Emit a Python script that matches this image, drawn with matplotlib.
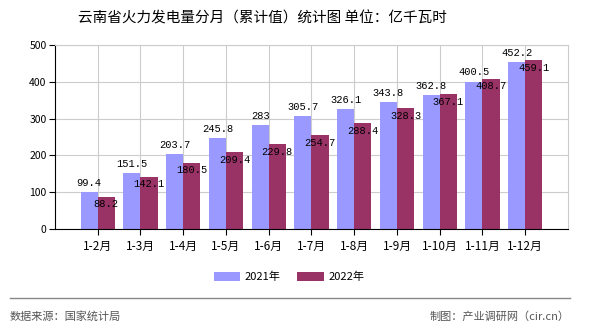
import matplotlib.pyplot as plt
import numpy as np
from matplotlib.lines import Line2D

plt.rcParams['font.family'] = ['Noto Sans CJK SC', 'DejaVu Sans']

months = ["1-2月", "1-3月", "1-4月", "1-5月", "1-6月", "1-7月",
          "1-8月", "1-9月", "1-10月", "1-11月", "1-12月"]
y2021 = [99.4, 151.5, 203.7, 245.8, 283, 305.7, 326.1, 343.8, 362.8, 400.5, 452.2]
y2022 = [88.2, 142.1, 180.5, 209.4, 229.8, 254.7, 288.4, 328.3, 367.1, 408.7, 459.1]
yticks = [0, 100, 200, 300, 400, 500]

c21 = "#9999ff"
c22 = "#993366"

fig = plt.figure(figsize=(5.9, 3.3), dpi=100)
ax = fig.add_axes([0.0932, 0.306, 0.8695, 0.558])

x = np.arange(len(months))
w = 0.4
b1 = ax.bar(x - w / 2, y2021, w, color=c21, label="2021年", zorder=2)
b2 = ax.bar(x + w / 2, y2022, w, color=c22, label="2022年", zorder=2)

# value labels: 2021 above the bar, 2022 just inside the top
for xi, v in zip(x, y2021):
    ax.annotate(f"{v:g}", (xi - w / 2, v), xytext=(0, 3), textcoords="offset points",
                ha="center", va="bottom", fontsize=7.5, family="Liberation Mono", zorder=3)
for xi, v in zip(x, y2022):
    ax.annotate(f"{v:g}", (xi + w / 2, v), xytext=(0, -2), textcoords="offset points",
                ha="center", va="top", fontsize=7.5, family="Liberation Mono", zorder=3)

ax.set_xlim(-1, len(months))
ax.set_ylim(0, 500)
ax.set_yticks(yticks)
ax.set_xticks(x)
ax.set_xticklabels(months, fontsize=8.5)
ax.tick_params(axis="y", labelsize=7.5, length=4, direction="out", pad=2)
ax.tick_params(axis="x", length=4, direction="out", pad=4)
ax.grid(True, color="#cccccc", linewidth=0.8, zorder=0)
ax.set_axisbelow(True)
for s in ["top", "right"]:
    ax.spines[s].set_color("#cccccc")
for s in ["left", "bottom"]:
    ax.spines[s].set_color("black")

fig.text(0.444, 0.945, "云南省火力发电量分月（累计值）统计图 单位：亿千瓦时",
         ha="center", va="center", fontsize=10.5)

fig.legend(handles=[b1, b2], loc="center", bbox_to_anchor=(0.49, 0.16), ncol=2,
           frameon=False, fontsize=8, handlelength=2.4, handleheight=0.9,
           columnspacing=1.5, handletextpad=0.4)

fig.add_artist(Line2D([0.017, 0.966], [0.097, 0.097], color="#888888", linewidth=1))
fig.text(0.017, 0.04, "数据来源：国家统计局", ha="left", va="center",
         fontsize=8, color="#555555")
fig.text(0.966, 0.04, "制图：产业调研网（cir.cn）", ha="right", va="center",
         fontsize=8, color="#555555")

fig.savefig("out.png", dpi=100)
